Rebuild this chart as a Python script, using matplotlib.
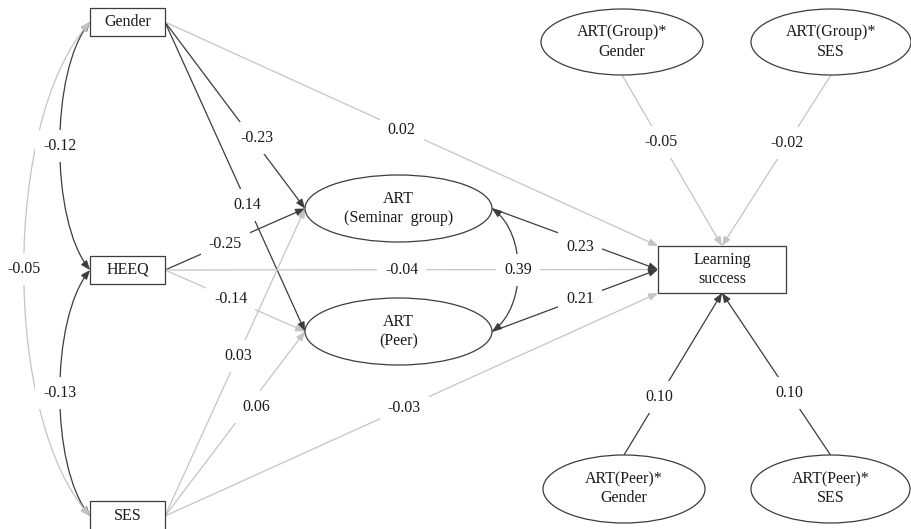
import matplotlib.pyplot as plt
from matplotlib.patches import Ellipse, Rectangle, FancyArrowPatch
from matplotlib.path import Path

plt.rcParams['font.family'] = ['Liberation Serif', 'DejaVu Serif']

# observed variables (boxes) and latent / interaction variables (ovals)
box_nodes = ['Gender', 'HEEQ', 'SES', 'Learning']
box_labels = ['Gender', 'HEEQ', 'SES', 'Learning\nsuccess']
oval_nodes = ['ARTs', 'ARTp', 'GxG', 'GxS', 'PxG', 'PxS']
oval_labels = ['ART\n(Seminar  group)', 'ART\n(Peer)', 'ART(Group)*\nGender',
               'ART(Group)*\nSES', 'ART(Peer)*\nGender', 'ART(Peer)*\nSES']

# regression paths: source -> target, standardized coefficient, significant
path_from = ['Gender', 'Gender', 'Gender', 'HEEQ', 'HEEQ', 'HEEQ', 'SES', 'SES', 'SES',
             'ARTs', 'ARTp', 'GxG', 'GxS', 'PxG', 'PxS']
path_to = ['ARTs', 'ARTp', 'Learning', 'ARTs', 'ARTp', 'Learning', 'ARTs', 'ARTp', 'Learning',
           'Learning', 'Learning', 'Learning', 'Learning', 'Learning', 'Learning']
path_coef = ['-0.23', '0.14', '0.02', '-0.25', '-0.14', '-0.04', '0.03', '0.06', '-0.03',
             '0.23', '0.21', '-0.05', '-0.02', '0.10', '0.10']
path_sig = [True, True, False, True, False, False, False, False, False,
            True, True, False, False, True, True]

# covariances (double-headed arcs)
cov_a = ['Gender', 'HEEQ', 'Gender', 'ARTs']
cov_b = ['HEEQ', 'SES', 'SES', 'ARTp']
cov_coef = ['-0.12', '-0.13', '-0.05', '0.39']
cov_sig = [True, True, False, True]

# ---- layout (pixel space of the original figure) ----
pos = {'Gender': (127.5, 22), 'HEEQ': (127.5, 270), 'SES': (127.5, 516), 'Learning': (722, 269.5),
       'ARTs': (398.5, 208.5), 'ARTp': (398.5, 331.5), 'GxG': (622, 42), 'GxS': (831, 42),
       'PxG': (624, 489), 'PxS': (830.5, 489)}
size = {'Gender': (75, 28), 'HEEQ': (75, 28), 'SES': (75, 30), 'Learning': (128, 47),
        'ARTs': (187, 67), 'ARTp': (187, 67), 'GxG': (162, 66), 'GxS': (160, 66),
        'PxG': (162, 68), 'PxS': (159, 68)}
path_out = ['R', 'R', 'R', 'R', 'R', 'R', 'R', 'R', 'R', 'R', 'R', 'B', 'B', 'T', 'T']
path_in = ['L', 'L', 'TL', 'L', 'L', 'L', 'L', 'L', 'BL', 'L', 'L', 'T', 'T', 'B', 'B']
path_t = [0.64, 0.59, 0.48, 0.43, 0.47, 0.48, 0.52, 0.6, 0.485, 0.53, 0.53, 0.39, 0.4, 0.36, 0.38]
# small nudges of coefficient labels off their line (px)
label_dx = [2, 0, 0, 0, 0, 0, 0, 7, 0, 0, 0, 0, 0, 0, 0]
label_dy = [-3, 0, 0, 0, 0, 0, 0, 2, 0, 6, 0, 0, 0, 0, 0]
cov_side = ['L', 'L', 'L', 'R']
cov_bulge = [-30, -30, -66, 26]

dark = '#3c3c3c'
light = '#c4c4c4'
fs = 11.5


def anchor(node, side):
    cx, cy = pos[node]
    w, h = size[node]
    dx = {'L': -w / 2, 'R': w / 2, 'T': 0, 'B': 0, 'TL': -w / 2, 'BL': -w / 2}[side]
    dy = {'L': 0, 'R': 0, 'T': -h / 2, 'B': h / 2, 'TL': -h / 2, 'BL': h / 2}[side]
    return cx + dx, cy + dy


def coef_label(ax, x, y, s):
    ax.text(x, y, s, ha='center', va='center', fontsize=fs, color='#1a1a1a', zorder=5,
            bbox=dict(boxstyle='square,pad=0.5', fc='white', ec='none'))


fig = plt.figure(figsize=(9.11, 5.29), dpi=100)
ax = fig.add_axes([0, 0, 1, 1])
ax.set_xlim(0, 911)
ax.set_ylim(529, 0)
ax.axis('off')

for n, lab in zip(box_nodes, box_labels):
    cx, cy = pos[n]
    w, h = size[n]
    ax.add_patch(Rectangle((cx - w / 2, cy - h / 2), w, h, fc='white', ec=dark, lw=0.9, zorder=3))
    ax.text(cx, cy, lab, ha='center', va='center', fontsize=fs, color='#1a1a1a', zorder=4,
            linespacing=1.2)

for n, lab in zip(oval_nodes, oval_labels):
    cx, cy = pos[n]
    w, h = size[n]
    ax.add_patch(Ellipse((cx, cy), w, h, fc='white', ec=dark, lw=0.9, zorder=3))
    ax.text(cx, cy, lab, ha='center', va='center', fontsize=fs, color='#1a1a1a', zorder=4,
            linespacing=1.25)

for i, (a, b, c, sig) in enumerate(zip(path_from, path_to, path_coef, path_sig)):
    p0 = anchor(a, path_out[i])
    p1 = anchor(b, path_in[i])
    t = path_t[i]
    col = dark if sig else light
    ax.add_patch(FancyArrowPatch(p0, p1, arrowstyle='-|>,head_length=0.55,head_width=0.22',
                                 mutation_scale=10, color=col, lw=0.9, shrinkA=0, shrinkB=0, zorder=2))
    lx = p0[0] + t * (p1[0] - p0[0]) + label_dx[i]
    ly = p0[1] + t * (p1[1] - p0[1]) + label_dy[i]
    coef_label(ax, lx, ly, c)

for a, b, c, sig, side, bulge in zip(cov_a, cov_b, cov_coef, cov_sig, cov_side, cov_bulge):
    x0, y0 = anchor(a, side)
    x3, y3 = anchor(b, side)
    xc = x0 + bulge * 8 / 6
    k = 0.2 * (y3 - y0)
    verts = [(x0, y0), (xc, y0 + k), (xc, y3 - k), (x3, y3)]
    arc = Path(verts, [Path.MOVETO, Path.CURVE4, Path.CURVE4, Path.CURVE4])
    col = dark if sig else light
    ax.add_patch(FancyArrowPatch(path=arc, arrowstyle='<|-|>,head_length=0.55,head_width=0.22',
                                 mutation_scale=10, color=col, lw=0.9, zorder=2))
    mx = (x0 + 3 * xc + 3 * xc + x3) / 8
    my = (y0 + y3) / 2
    coef_label(ax, mx, my, c)

fig.savefig('out.png', dpi=100)
